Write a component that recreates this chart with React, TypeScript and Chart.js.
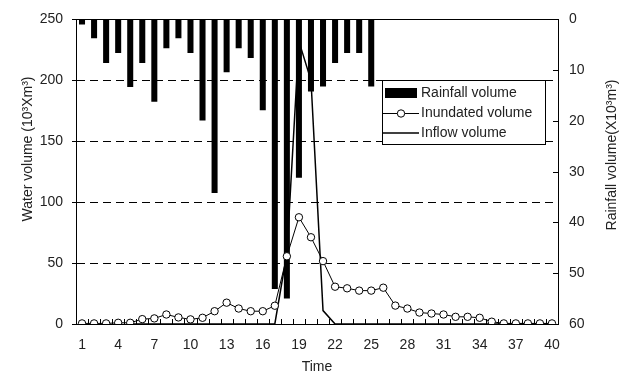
import React, { useEffect, useRef } from 'react';
import { Chart, registerables } from 'chart.js';

Chart.register(...registerables);

const hours = ['1','2','3','4','5','6','7','8','9','10','11','12','13','14','15','16','17','18','19','20','21','22','23','24','25','26','27','28','29','30','31','32','33','34','35','36','37','38','39','40'];
const xTickLabels = ['1','4','7','10','13','16','19','22','25','28','31','34','37','40'];
const leftTicks = [0, 50, 100, 150, 200, 250];
const rightTicks = [0, 10, 20, 30, 40, 50, 60];

const rainfall = [1.0, 3.7, 8.6, 6.6, 13.3, 8.6, 16.2, 5.7, 3.7, 6.6, 19.9, 34.2, 10.4, 5.7, 7.6, 17.9, 53.1, 55.0, 31.2, 14.2, 13.2, 8.6, 6.6, 6.6, 13.2, null, null, null, null, null, null, null, null, null, null, null, null, null, null, null];
const inundated = [0.5, 0.5, 0.5, 1, 1, 4, 4.6, 7.8, 5.4, 3.8, 5.1, 10.5, 17.5, 12.7, 10.5, 10.5, 15, 55.6, 87.6, 71.2, 51.6, 30.6, 29.3, 27.4, 27.4, 29.8, 15.1, 12.7, 9.4, 8.6, 7.8, 5.9, 5.9, 5.1, 1.9, 0.5, 0.5, 0.5, 0.5, 0.5];
const inflow = [null, null, null, null, 0, 0, 0, 0, 0, 0, 0, 0, 0, 0, 0, 0, 0, 58, 232, 200, 11, 0, 0, 0, 0, 0, 0, 0, 0, 0, 0, 0, 0, 0, 0, 0, 0, 0, 0, 0];

const legendItems = ['Rainfall volume', 'Inundated volume', 'Inflow volume'];
const leftTitle = 'Water volume (10\u00B3Xm\u00B3)';
const rightTitle = 'Rainfall volume(X10\u00B3m\u00B3)';
const xTitle = 'Time';

const FONT = "'Liberation Sans', Arial, sans-serif";
const TEXT = '#222';
const FS = 14;

const deco = {
  id: 'deco',
  beforeDatasetsDraw(chart: any) {
    const { ctx, chartArea: a, scales } = chart;
    const x = scales.x;
    const y1 = scales.y1;
    ctx.save();
    ctx.strokeStyle = '#000';
    ctx.lineWidth = 1;
    ctx.setLineDash([]);
    const line = (x1: number, yA: number, x2: number, yB: number) => {
      ctx.beginPath();
      ctx.moveTo(x1, yA);
      ctx.lineTo(x2, yB);
      ctx.stroke();
    };
    const ty = Math.round(a.top) + 0.5;
    line(a.left, ty, a.right, ty);
    const w = x.getPixelForValue(1) - x.getPixelForValue(0);
    for (let k = 1; k < hours.length; k++) {
      const px = Math.round(x.getPixelForValue(k) - w / 2) + 0.5;
      line(px, a.bottom, px, a.bottom - 5);
    }
    rightTicks.forEach((v) => {
      const py = Math.round(y1.getPixelForValue(v)) + 0.5;
      line(a.right - 5, py, a.right, py);
    });
    ctx.restore();
  },
  afterDraw(chart: any) {
    const { ctx, chartArea: a } = chart;
    ctx.save();
    ctx.setLineDash([]);
    // legend
    const bx = 382.5, by = 80.5, bw = 163, bh = 64;
    ctx.fillStyle = '#fff';
    ctx.fillRect(bx, by, bw, bh);
    ctx.strokeStyle = '#000';
    ctx.lineWidth = 1;
    ctx.strokeRect(bx, by, bw, bh);
    const rows = [93, 113, 133];
    ctx.fillStyle = '#000';
    ctx.fillRect(385, 88, 32, 10);
    ctx.beginPath();
    ctx.moveTo(383, rows[1] + 0.5);
    ctx.lineTo(419, rows[1] + 0.5);
    ctx.stroke();
    ctx.beginPath();
    ctx.arc(401, rows[1] + 0.5, 3.7, 0, Math.PI * 2);
    ctx.fillStyle = '#fff';
    ctx.fill();
    ctx.stroke();
    ctx.lineWidth = 1.5;
    ctx.beginPath();
    ctx.moveTo(383, rows[2]);
    ctx.lineTo(419, rows[2]);
    ctx.stroke();
    ctx.fillStyle = TEXT;
    ctx.font = `${FS}px ${FONT}`;
    ctx.textAlign = 'left';
    ctx.textBaseline = 'middle';
    legendItems.forEach((t, i) => ctx.fillText(t, 421, rows[i]));
    // titles
    ctx.textAlign = 'center';
    ctx.save();
    ctx.translate(28, 149);
    ctx.rotate(-Math.PI / 2);
    ctx.fillText(leftTitle, 0, 0);
    ctx.restore();
    ctx.save();
    ctx.translate(612, 155);
    ctx.rotate(-Math.PI / 2);
    ctx.fillText(rightTitle, 0, 0);
    ctx.restore();
    ctx.fillText(xTitle, (a.left + a.right) / 2, 367);
    ctx.restore();
  },
};

export default function App() {
  const ref = useRef<HTMLCanvasElement | null>(null);
  useEffect(() => {
    if (!ref.current) return;
    const chart = new Chart(ref.current, {
      type: 'bar',
      data: {
        labels: hours,
        datasets: [
          {
            type: 'line',
            label: legendItems[1],
            data: inundated,
            yAxisID: 'y',
            borderColor: '#000',
            borderWidth: 1,
            pointRadius: 3.7,
            pointBackgroundColor: '#fff',
            pointBorderColor: '#000',
            pointBorderWidth: 1,
            tension: 0,
            order: 1,
          } as any,
          {
            type: 'line',
            label: legendItems[2],
            data: inflow,
            yAxisID: 'y',
            borderColor: '#000',
            borderWidth: 1.5,
            pointRadius: 0,
            tension: 0,
            order: 2,
          } as any,
          {
            type: 'bar',
            label: legendItems[0],
            data: rainfall,
            yAxisID: 'y1',
            backgroundColor: '#000',
            barPercentage: 0.5,
            categoryPercentage: 1,
            order: 3,
          } as any,
        ],
      },
      options: {
        animation: false,
        responsive: false,
        maintainAspectRatio: false,
        layout: { padding: { top: 14, left: 0, right: 0, bottom: 0 } },
        plugins: { legend: { display: false }, tooltip: { enabled: false } },
        scales: {
          x: {
            type: 'category',
            offset: true,
            grid: { display: false, drawTicks: false },
            border: { display: true, color: '#000', width: 1 },
            ticks: {
              autoSkip: false,
              maxRotation: 0,
              padding: 13,
              color: TEXT,
              font: { family: FONT, size: FS },
              callback: function (this: any, v: any) {
                const l = this.getLabelForValue(v);
                return xTickLabels.includes(l) ? l : '';
              },
            },
            afterFit: (s: any) => { s.height = 54; },
          },
          y: {
            position: 'left',
            min: leftTicks[0],
            max: leftTicks[leftTicks.length - 1],
            ticks: { stepSize: 50, padding: 9, color: TEXT, font: { family: FONT, size: FS } },
            grid: {
              color: (c: any) => (c.tick && (c.tick.value === 0 || c.tick.value === 250) ? 'rgba(0,0,0,0)' : '#000'),
              lineWidth: 1,
              tickColor: '#000',
              tickLength: 4,
              drawTicks: true,
            },
            border: { display: true, color: '#000', width: 1, dash: [8, 5] },
            afterFit: (s: any) => { s.width = 76; },
          },
          y1: {
            position: 'right',
            min: rightTicks[0],
            max: rightTicks[rightTicks.length - 1],
            reverse: true,
            ticks: { stepSize: 10, padding: 11, color: TEXT, font: { family: FONT, size: FS } },
            grid: { drawOnChartArea: false, drawTicks: false },
            border: { display: true, color: '#000', width: 1 },
            afterFit: (s: any) => { s.width = 68; },
          },
        },
      },
      plugins: [deco],
    } as any);
    return () => chart.destroy();
  }, []);
  return (
    <div style={{ position: 'fixed', left: 0, top: 0, width: 626, height: 378, background: '#fff' }}>
      <canvas ref={ref} width={626} height={378} style={{ width: 626, height: 378, display: 'block' }} />
    </div>
  );
}
